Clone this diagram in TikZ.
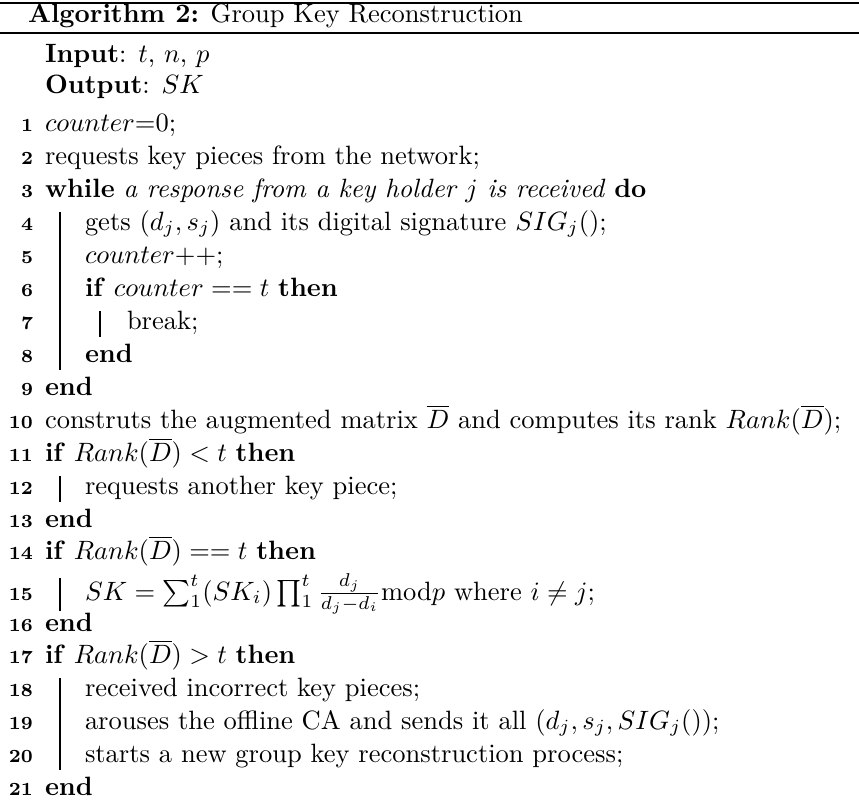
\documentclass[tikz,border=0pt]{standalone}
\begin{document}
\begin{tikzpicture}[x=0.3774pt,y=-0.3774pt,
  txt/.style={anchor=base west,inner sep=0pt,outer sep=0pt,font=\normalsize},
  num/.style={anchor=base east,inner sep=0pt,outer sep=0pt,font=\scriptsize\bfseries},
  blockbar/.style={line width=0.55pt},
  toprule/.style={line width=1.1pt},
  midrule/.style={line width=0.8pt}]
\useasboundingbox (0,0) rectangle (859,810);
% rules
\coordinate (tl) at (0,3); \coordinate (tr) at (859,3);
\coordinate (ml) at (0,33); \coordinate (mr) at (859,33);
\draw[toprule] (tl) -- (tr);
\draw[midrule] (ml) -- (mr);
% caption
\node[txt] (cap) at (28,22) {\textbf{Algorithm 2:} Group Key Reconstruction};
\node[txt] (in) at (45,62) {\textbf{Input}: $t$, $n$, $p$};
\node[txt] (out) at (45,93) {\textbf{Output}: $SK$};
% line numbers
\foreach \k/\y in {1/131,2/164,3/197,4/230,5/263,6/296,7/329,8/362,9/395,10/428,11/461,12/494,13/527,14/559,15/600,16/631,17/663,18/696,19/729,20/762,21/795}
  \node[num] (n\k) at (33,\y) {\k};
% lines
\node[txt] (l1) at (45,131) {$counter$=0;};
\node[txt] (l2) at (45,164) {requests key pieces from the network;};
\node[txt] (l3) at (45,197) {\textbf{while} \emph{a response from a key holder $j$ is received} \textbf{do}};
\node[txt] (l4) at (85,230) {gets $(d_j, s_j)$ and its digital signature $SIG_j()$;};
\node[txt] (l5) at (85,263) {$counter$++;};
\node[txt] (l6) at (85,296) {\textbf{if} $counter == t$ \textbf{then}};
\node[txt] (l7) at (127,329) {break;};
\node[txt] (l8) at (85,362) {\textbf{end}};
\node[txt] (l9) at (45,395) {\textbf{end}};
\node[txt] (l10) at (45,428) {construts the augmented matrix $\overline{D}$ and computes its rank $Rank(\overline{D})$;};
\node[txt] (l11) at (45,461) {\textbf{if} $Rank(\overline{D}) < t$ \textbf{then}};
\node[txt] (l12) at (85,494) {requests another key piece;};
\node[txt] (l13) at (45,527) {\textbf{end}};
\node[txt] (l14) at (45,559) {\textbf{if} $Rank(\overline{D}) == t$ \textbf{then}};
\node[txt] (l15) at (85,600) {$SK=\sum_1^t(SK_i)\prod_1^t\frac{d_j}{d_j-d_i}\mathrm{mod}p$ where $i\neq j$;};
\node[txt] (l16) at (45,631) {\textbf{end}};
\node[txt] (l17) at (45,663) {\textbf{if} $Rank(\overline{D}) > t$ \textbf{then}};
\node[txt] (l18) at (85,696) {received incorrect key pieces;};
\node[txt] (l19) at (85,729) {arouses the offline CA and sends it all $(d_j, s_j, SIG_j())$;};
\node[txt] (l20) at (85,762) {starts a new group key reconstruction process;};
\node[txt] (l21) at (45,795) {\textbf{end}};
% block bars
\draw[blockbar] (60,212) -- (60,370);
\draw[blockbar] (100,311) -- (100,337);
\draw[blockbar] (60,476) -- (60,502);
\draw[blockbar] (60,578) -- (60,611);
\draw[blockbar] (60,678) -- (60,770);
\end{tikzpicture}
\end{document}
